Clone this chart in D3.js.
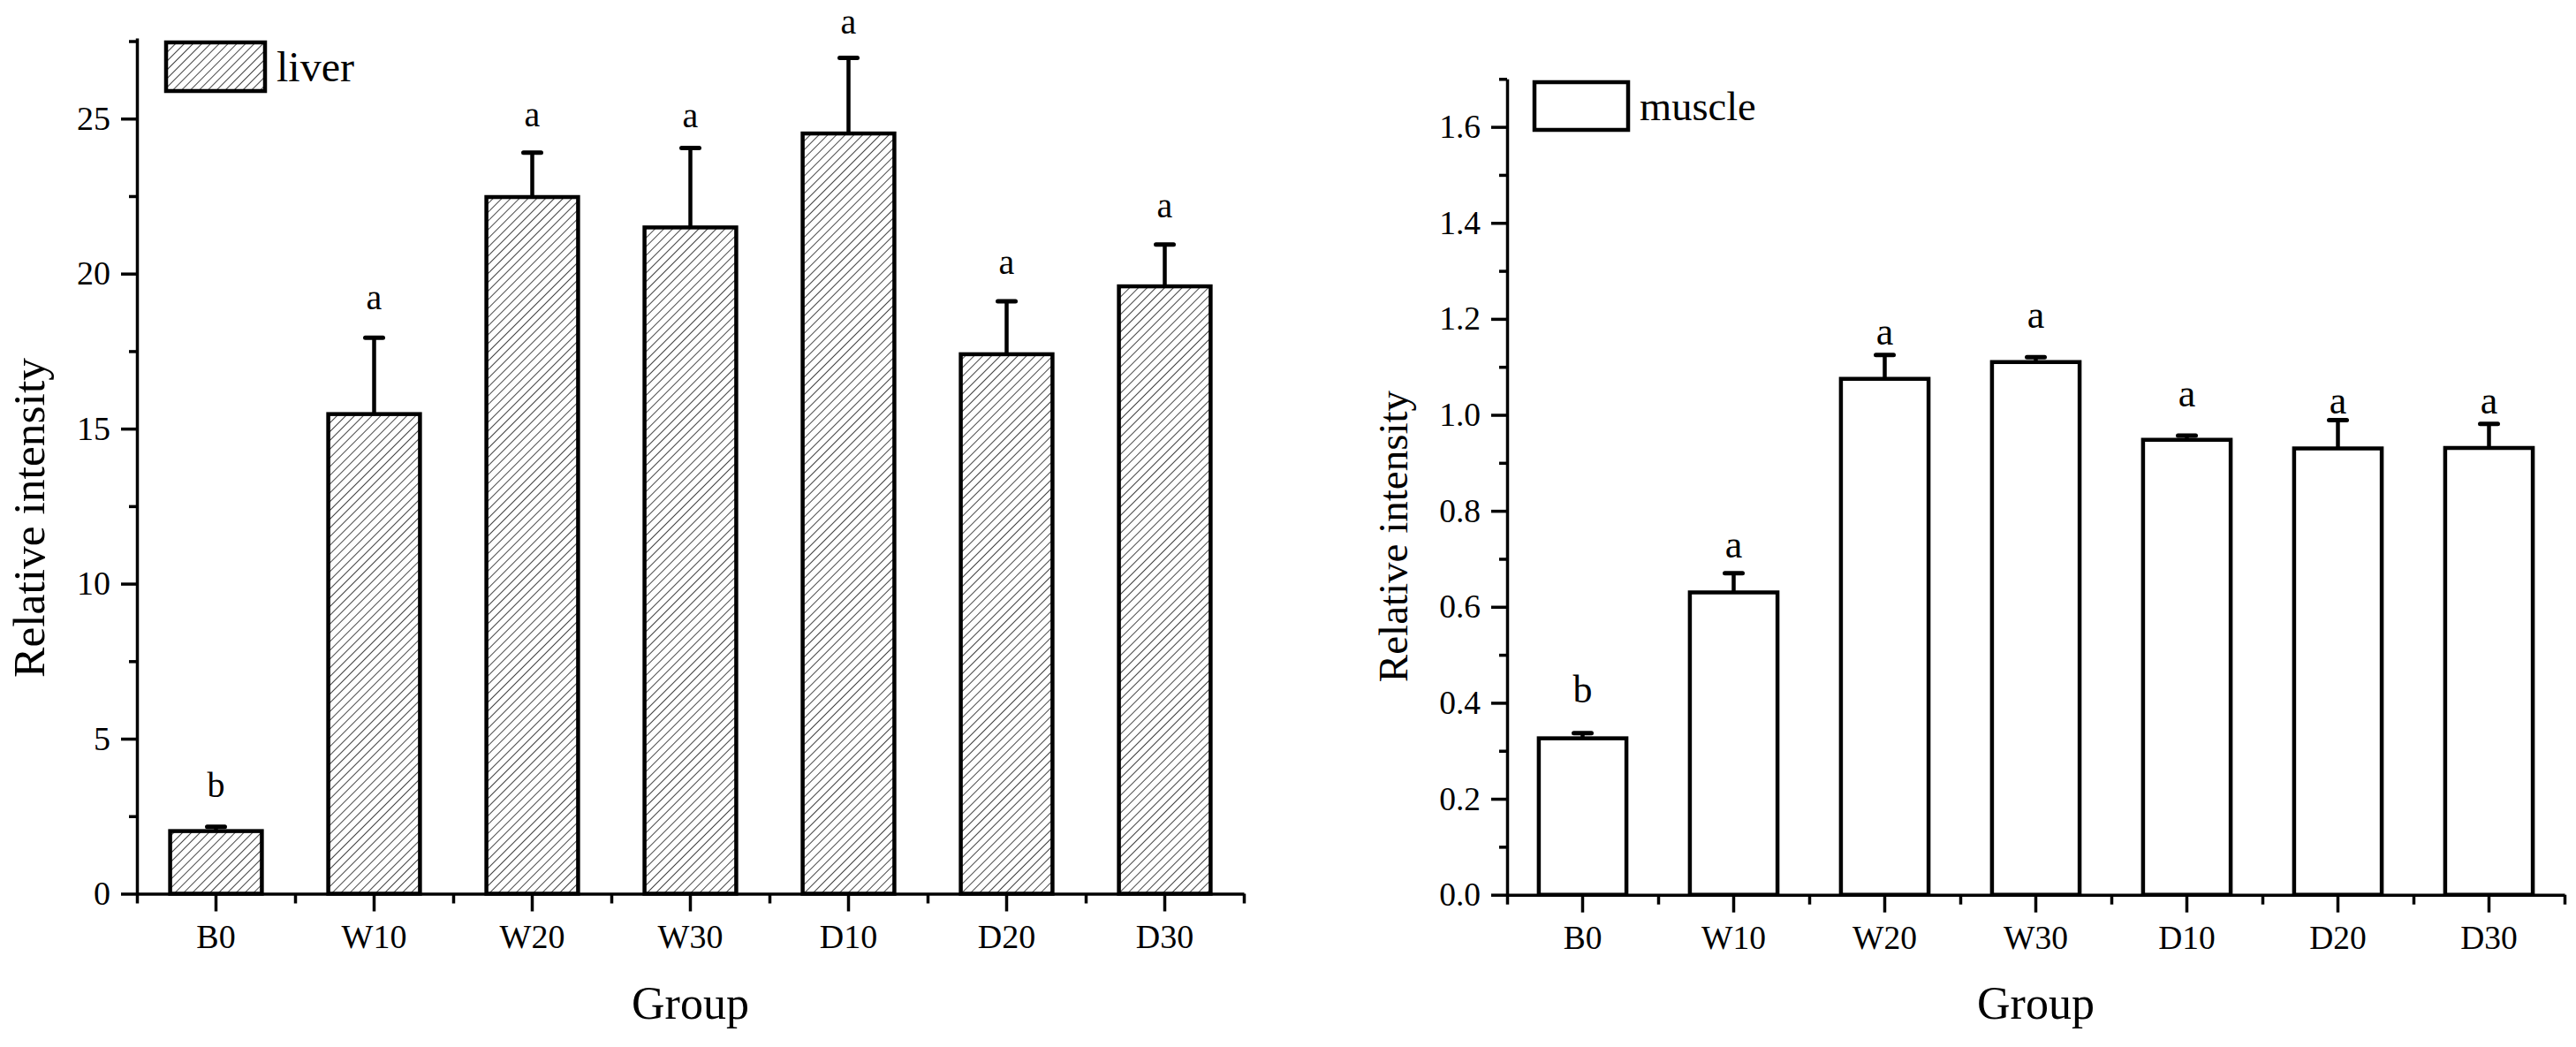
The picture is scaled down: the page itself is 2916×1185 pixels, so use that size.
<!DOCTYPE html>
<html lang="en">
<head>
    <meta charset="UTF-8">
    <title>Relative intensity - liver / muscle</title>
    <script src="https://d3js.org/d3.v7.min.js"></script>
    <style>
        body { margin: 0; background: #fff; }
        svg { display: block; font-family: "Liberation Serif", "Times New Roman", serif; }
        .axis path, .axis line { stroke: #000; stroke-width: 3.5; }
        .axis text { fill: #000; font-family: "Liberation Serif", "Times New Roman", serif; }
        .bar { stroke: #000; stroke-width: 4.5; }
    </style>
</head>
<body>
    <svg width="2916" height="1185"></svg>

    <script>
        // data
        const groups = ["B0", "W10", "W20", "W30", "D10", "D20", "D30"];

        const liverMean = [2.02, 15.47, 22.47, 21.49, 24.52, 17.40, 19.59];
        const liverErr = [0.14, 2.46, 1.43, 2.56, 2.44, 1.71, 1.35];
        const liverSig = ["b", "a", "a", "a", "a", "a", "a"];
        const liverSigAt = [3.13, 18.85, 24.74, 24.73, 27.75, 19.99, 21.81];
        const liverTicks = [0, 5, 10, 15, 20, 25];
        const liverMinorTicks = [2.5, 7.5, 12.5, 17.5, 22.5, 27.5];

        const muscleMean = [0.326, 0.630, 1.075, 1.110, 0.948, 0.930, 0.931];
        const muscleErr = [0.011, 0.040, 0.050, 0.010, 0.009, 0.059, 0.050];
        const muscleSig = ["b", "a", "a", "a", "a", "a", "a"];
        const muscleSigAt = [0.401, 0.702, 1.147, 1.181, 1.017, 1.003, 1.003];
        const muscleTicks = [0, 0.2, 0.4, 0.6, 0.8, 1.0, 1.2, 1.4, 1.6];
        const muscleMinorTicks = [0.1, 0.3, 0.5, 0.7, 0.9, 1.1, 1.3, 1.5, 1.7];

        const svg = d3.select("svg");

        // hatch pattern for the liver bars
        const defs = svg.append("defs");
        defs.append("pattern")
            .attr("id", "hatch")
            .attr("patternUnits", "userSpaceOnUse")
            .attr("width", 7)
            .attr("height", 7)
            .attr("patternTransform", "rotate(45)")
            .call(p => p.append("rect").attr("width", 7).attr("height", 7).attr("fill", "#fff"))
            .append("line")
            .attr("x1", 0).attr("y1", 0)
            .attr("x2", 0).attr("y2", 7)
            .attr("stroke", "#222")
            .attr("stroke-width", 1.7);

        function drawPanel(cfg) {
            const g = svg.append("g");
            const rows = groups.map((k, i) => ({
                key: k, mean: cfg.mean[i], err: cfg.err[i], sig: cfg.sig[i], sigAt: cfg.sigAt[i]
            }));

            const x = d3.scaleBand()
                .domain(groups)
                .range([cfg.left, cfg.right])
                .padding(0);
            const xEdge = d3.scaleLinear()
                .domain([0, groups.length])
                .range([cfg.left, cfg.right]);
            const y = d3.scaleLinear()
                .domain([0, cfg.yMax])
                .range([cfg.bottom, cfg.top]);

            const barW = x.bandwidth() * 0.58;

            // bars
            g.selectAll(".bar")
                .data(rows)
                .join("rect")
                .attr("class", "bar")
                .attr("x", d => x(d.key) + (x.bandwidth() - barW) / 2)
                .attr("y", d => y(d.mean))
                .attr("width", barW)
                .attr("height", d => y(0) - y(d.mean))
                .attr("fill", cfg.fill);

            // error bars (upper only)
            const cx = d => x(d.key) + x.bandwidth() / 2;
            g.selectAll(".stem")
                .data(rows)
                .join("line")
                .attr("x1", cx).attr("x2", cx)
                .attr("y1", d => y(d.mean))
                .attr("y2", d => y(d.mean + d.err))
                .attr("stroke", "#000")
                .attr("stroke-width", 4.5);
            g.selectAll(".cap")
                .data(rows)
                .join("line")
                .attr("x1", d => cx(d) - 10).attr("x2", d => cx(d) + 10)
                .attr("y1", d => y(d.mean + d.err))
                .attr("y2", d => y(d.mean + d.err))
                .attr("stroke", "#000")
                .attr("stroke-width", 5)
                .attr("stroke-linecap", "round");

            // significance letters
            g.selectAll(".sig")
                .data(rows)
                .join("text")
                .attr("x", cx)
                .attr("y", d => y(d.sigAt))
                .attr("text-anchor", "middle")
                .attr("font-size", cfg.sigSize + "px")
                .text(d => d.sig);

            // y axis, major + minor
            g.append("g")
                .attr("class", "axis")
                .attr("transform", `translate(${cfg.left},0)`)
                .call(d3.axisLeft(y)
                    .tickValues(cfg.ticks)
                    .tickFormat(cfg.fmt)
                    .tickSize(18)
                    .tickSizeOuter(0)
                    .tickPadding(12))
                .call(a => a.selectAll("text").attr("font-size", cfg.tickSize + "px"));
            g.append("g")
                .attr("class", "axis")
                .attr("transform", `translate(${cfg.left},0)`)
                .call(d3.axisLeft(y)
                    .tickValues(cfg.minor)
                    .tickFormat("")
                    .tickSize(9)
                    .tickSizeOuter(0))
                .call(a => a.select(".domain").remove());

            // x axis, major at centres, minor at edges
            g.append("g")
                .attr("class", "axis")
                .attr("transform", `translate(0,${cfg.bottom})`)
                .call(d3.axisBottom(x)
                    .tickSize(20)
                    .tickSizeOuter(0)
                    .tickPadding(15))
                .call(a => a.selectAll("text").attr("font-size", cfg.tickSize + "px"));
            g.append("g")
                .attr("class", "axis")
                .attr("transform", `translate(0,${cfg.bottom})`)
                .call(d3.axisBottom(xEdge)
                    .tickValues(d3.range(groups.length + 1))
                    .tickFormat("")
                    .tickSize(11)
                    .tickSizeOuter(0))
                .call(a => a.select(".domain").remove());

            // axis titles
            g.append("text")
                .attr("transform", `translate(${cfg.yTitleX},${cfg.yTitleY}) rotate(-90)`)
                .attr("text-anchor", "middle")
                .attr("font-size", cfg.yTitleSize + "px")
                .text("Relative intensity");
            g.append("text")
                .attr("x", (cfg.left + cfg.right) / 2)
                .attr("y", 1153)
                .attr("text-anchor", "middle")
                .attr("font-size", "52px")
                .text("Group");

            // legend
            g.append("rect")
                .attr("x", cfg.legend[0]).attr("y", cfg.legend[1])
                .attr("width", cfg.legend[2]).attr("height", cfg.legend[3])
                .attr("fill", cfg.fill)
                .attr("stroke", "#000")
                .attr("stroke-width", 4.5);
            g.append("text")
                .attr("x", cfg.legend[0] + cfg.legend[2] + 13)
                .attr("y", cfg.legend[1] + cfg.legend[3] - 11)
                .attr("font-size", cfg.legendSize + "px")
                .text(cfg.name);
        }

        drawPanel({
            name: "liver", mean: liverMean, err: liverErr, sig: liverSig, sigAt: liverSigAt,
            ticks: liverTicks, minor: liverMinorTicks, fmt: d3.format("d"), yMax: 27.6,
            left: 155, right: 1408, top: 43, bottom: 1011.5,
            fill: "url(#hatch)", sigSize: 40, tickSize: 38, yTitleX: 50, yTitleY: 586, yTitleSize: 51.5,
            legend: [188, 48, 112, 55], legendSize: 48
        });

        drawPanel({
            name: "muscle", mean: muscleMean, err: muscleErr, sig: muscleSig, sigAt: muscleSigAt,
            ticks: muscleTicks, minor: muscleMinorTicks, fmt: d3.format(".1f"), yMax: 1.7,
            left: 1706, right: 2903, top: 89.3, bottom: 1012.7,
            fill: "#fff", sigSize: 44, tickSize: 37.5, yTitleX: 1593, yTitleY: 607, yTitleSize: 47,
            legend: [1737, 93, 106, 54], legendSize: 46.5
        });
    </script>
</body>
</html>
